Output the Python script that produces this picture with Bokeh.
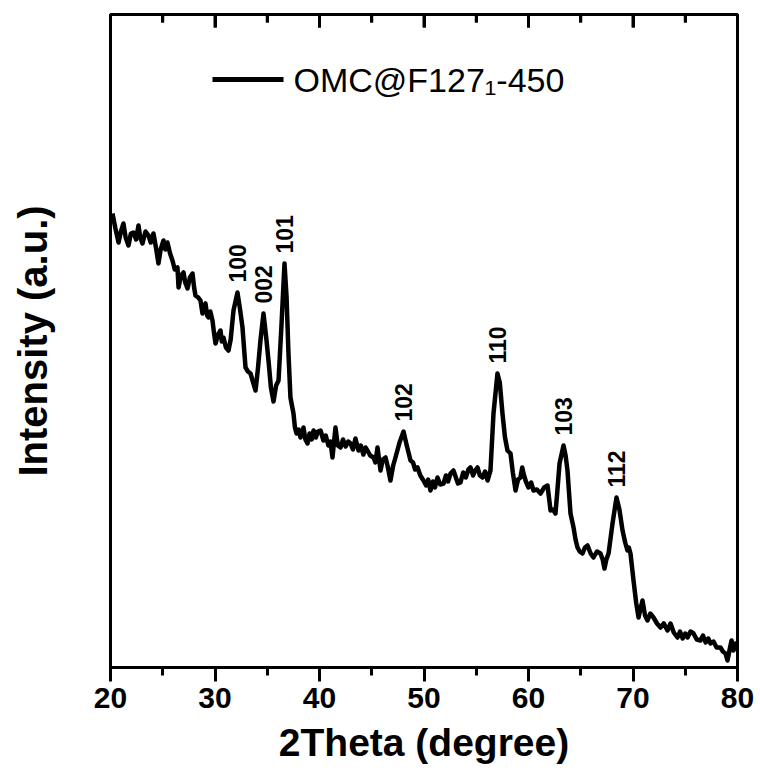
import math
from bokeh.plotting import figure
from bokeh.models import (Range1d, LinearAxis, FixedTicker, Label, BoxAnnotation,
                          ColumnDataSource)
from bokeh.core.properties import value
from bokeh.embed import file_html
from bokeh.resources import INLINE

# ---- data ----
two_theta = [
    20.19, 20.45, 20.77, 21.00, 21.24, 21.45, 21.72, 21.95, 22.20, 22.45,
    22.68, 22.85, 23.06, 23.35, 23.64, 23.85, 24.11, 24.35, 24.59, 24.80,
    25.07, 25.25, 25.45, 25.70, 25.93, 26.15, 26.41, 26.51, 26.75, 26.99,
    27.15, 27.37, 27.60, 27.85, 28.00, 28.13, 28.40, 28.61, 28.80, 28.95,
    29.09, 29.25, 29.38, 29.55, 29.76, 29.90, 30.05, 30.30, 30.53, 30.65,
    30.81, 31.05, 31.29, 31.50, 31.77, 32.15, 32.40, 32.63, 32.92, 33.15,
    33.40, 33.65, 33.88, 34.10, 34.35, 34.64, 34.90, 35.12, 35.35, 35.60,
    35.85, 36.08, 36.35, 36.65, 36.85, 37.03, 37.22, 37.51, 37.65, 37.80,
    38.00, 38.18, 38.47, 38.65, 38.85, 39.05, 39.25, 39.43, 39.65, 39.85,
    40.10, 40.38, 40.60, 40.85, 41.05, 41.24, 41.53, 41.75, 42.01, 42.25,
    42.50, 42.75, 42.97, 43.20, 43.44, 43.73, 43.95, 44.20, 44.40, 44.59,
    44.85, 45.17, 45.35, 45.55, 45.84, 46.05, 46.32, 46.55, 46.79, 47.05,
    47.27, 47.66, 48.04, 48.35, 48.71, 48.95, 49.15, 49.38, 49.65, 49.95,
    50.20, 50.40, 50.62, 50.85, 51.05, 51.29, 51.55, 51.87, 52.10, 52.30,
    52.54, 52.82, 53.05, 53.25, 53.49, 53.75, 54.00, 54.25, 54.45, 54.70,
    54.90, 55.12, 55.35, 55.60, 55.85, 56.08, 56.36, 56.65, 57.03, 57.25,
    57.51, 57.75, 57.99, 58.28, 58.50, 58.76, 59.00, 59.23, 59.40, 59.52,
    59.75, 60.00, 60.25, 60.48, 60.80, 61.15, 61.50, 61.82, 62.11, 62.35,
    62.58, 62.75, 62.97, 63.35, 63.55, 63.73, 64.02, 64.31, 64.50, 64.69,
    64.90, 65.17, 65.40, 65.65, 65.95, 66.22, 66.55, 66.89, 67.10, 67.27,
    67.45, 67.66, 68.04, 68.42, 68.70, 69.00, 69.25, 69.47, 69.60, 69.76,
    70.05, 70.30, 70.53, 70.70, 70.91, 71.15, 71.39, 71.65, 71.96, 72.30,
    72.63, 72.95, 73.30, 73.59, 73.90, 74.26, 74.50, 74.75, 75.00, 75.22,
    75.50, 75.79, 76.10, 76.46, 76.70, 76.95, 77.20, 77.42, 77.70, 78.00,
    78.37, 78.60, 78.85, 79.04, 79.25, 79.43, 79.62, 79.81, 79.95,
]
intensity = [
    454, 440, 425, 436, 444, 430, 422, 434, 435, 428,
    442, 430, 424, 436, 432, 425, 434, 420, 404, 418,
    427, 418, 425, 414, 407, 398, 400, 380, 392, 395,
    385, 379, 390, 394, 380, 372, 370, 367, 354, 362,
    364, 352, 350, 356, 347, 335, 324, 333, 337, 326,
    330, 320, 317, 328, 357, 375, 358, 340, 300, 296,
    294, 285, 277, 298, 327, 354, 330, 307, 280, 266,
    282, 287, 340, 404, 370, 314, 270, 254, 240, 234,
    238, 230, 240, 228, 224, 234, 228, 237, 230, 236,
    237, 227, 232, 222, 226, 210, 240, 222, 220, 228,
    221, 226, 224, 218, 229, 217, 222, 213, 220, 217,
    212, 210, 205, 220, 197, 208, 210, 200, 187, 202,
    210, 225, 236, 222, 207, 205, 198, 200, 192, 187,
    182, 188, 177, 186, 180, 190, 183, 184, 192, 186,
    194, 197, 190, 184, 185, 195, 190, 198, 200, 192,
    197, 200, 192, 190, 196, 187, 197, 254, 294, 285,
    254, 230, 217, 214, 195, 177, 188, 190, 200, 194,
    186, 180, 185, 177, 178, 174, 180, 182, 157, 158,
    154, 175, 204, 222, 212, 197, 154, 140, 128, 120,
    116, 114, 120, 122, 114, 110, 116, 114, 108, 99,
    108, 114, 144, 170, 158, 137, 125, 117, 120, 114,
    87, 65, 50, 58, 67, 52, 47, 54, 50, 44,
    40, 44, 37, 44, 35, 30, 36, 29, 34, 30,
    36, 34, 28, 27, 32, 25, 29, 24, 26, 20,
    20, 16, 14, 7, 18, 27, 17, 24, 22,
]

hkl = ["100", "002", "101", "102", "110", "103", "112"]
peak_theta = [32.15, 34.64, 36.65, 48.04, 57.03, 63.35, 68.42]
peak_intensity = [375, 354, 404, 236, 294, 222, 170]

series_label = "OMC@F127\u2081-450"
x_ticks = [20, 30, 40, 50, 60, 70, 80]
x_minor_ticks = [25, 35, 45, 55, 65, 75]

FONT = "Liberation Sans"
Y_TOP = 653            # top of the y range (1 unit = 1 px)
TICK_HALF = 0.14       # half tick width, in degrees (~3 px)

p = figure(width=760, height=779, x_range=Range1d(20, 80), y_range=Range1d(0, Y_TOP),
           output_backend="svg", toolbar_location=None,
           min_border_left=110, min_border_right=23, min_border_top=14,
           min_border_bottom=112)
p.xgrid.visible = False
p.ygrid.visible = False
p.outline_line_color = "black"
p.outline_line_width = 3

# bottom axis
xa = p.xaxis[0]
xa.ticker = FixedTicker(ticks=x_ticks, minor_ticks=x_minor_ticks)
xa.major_tick_out = 14
xa.major_tick_in = 0
xa.minor_tick_out = 8
xa.minor_tick_in = 0
xa.axis_line_width = 3
xa.major_tick_line_width = 3
xa.major_tick_line_color = "black"
xa.minor_tick_line_width = 3
xa.minor_tick_line_color = "black"
xa.major_label_text_font = FONT
xa.major_label_text_font_style = "bold"
xa.major_label_text_font_size = "30px"
xa.major_label_text_color = "black"
xa.major_label_standoff = 6
xa.axis_label = "2Theta (degree)"
xa.axis_label_text_font = FONT
xa.axis_label_text_font_style = "bold"
xa.axis_label_text_font_size = "39px"
xa.axis_label_text_color = "black"
xa.axis_label_standoff = 10

# left axis
ya = p.yaxis[0]
ya.major_tick_line_color = None
ya.minor_tick_line_color = None
ya.major_label_text_font_size = "0px"
ya.major_label_standoff = 0
ya.axis_line_width = 3
ya.axis_label = "Intensity (a.u.)"
ya.axis_label_text_font = FONT
ya.axis_label_text_font_style = "bold"
ya.axis_label_text_font_size = "40px"
ya.axis_label_text_color = "black"
ya.axis_label_standoff = 50

# top axis (inward ticks only)
top = LinearAxis(ticker=FixedTicker(ticks=x_ticks, minor_ticks=x_minor_ticks),
                 major_tick_in=13, major_tick_out=0, minor_tick_in=8, minor_tick_out=0,
                 major_tick_line_width=3, minor_tick_line_width=3,
                 major_tick_line_color="black", minor_tick_line_color="black",
                 axis_line_width=3, major_label_text_font_size="0px",
                 major_label_standoff=0)
p.add_layout(top, "above")

# tick marks also drawn as segments from the tick lists (top: inward, bottom: outward)
p.segment(x0=x_ticks, x1=x_ticks, y0=[Y_TOP - 13] * len(x_ticks), y1=[Y_TOP] * len(x_ticks),
          line_width=3, color="black")
p.segment(x0=x_minor_ticks, x1=x_minor_ticks, y0=[Y_TOP - 8] * len(x_minor_ticks),
          y1=[Y_TOP] * len(x_minor_ticks), line_width=3, color="black")
p.segment(x0=x_ticks, x1=x_ticks, y0=[-14] * len(x_ticks), y1=[0] * len(x_ticks),
          line_width=3, color="black")
p.segment(x0=x_minor_ticks, x1=x_minor_ticks, y0=[-8] * len(x_minor_ticks),
          y1=[0] * len(x_minor_ticks), line_width=3, color="black")

p.line(two_theta, intensity, line_width=4.5, color="black", line_join="round")

# legend (sample line + label), positioned in px from the frame's bottom-left
p.add_layout(BoxAnnotation(left=102, right=173, bottom=585.5, top=590.5,
                           left_units="screen", right_units="screen",
                           bottom_units="screen", top_units="screen",
                           fill_color="black", fill_alpha=1.0, line_alpha=0))
p.add_layout(Label(x=183, y=588, x_units="screen", y_units="screen", text=series_label,
                   text_font=FONT, text_font_size="34px", text_color="black",
                   text_baseline="middle", text_align="left"))

src = ColumnDataSource(dict(x=peak_theta, y=[v + 10 for v in peak_intensity], t=hkl))
p.text("x", "y", "t", source=src, angle=math.pi / 2, text_align="left",
       text_baseline="middle", text_font=value(FONT), text_font_size="23px",
       text_font_style="bold", text_color="black")

open("out.html", "w").write(file_html(p, INLINE))
